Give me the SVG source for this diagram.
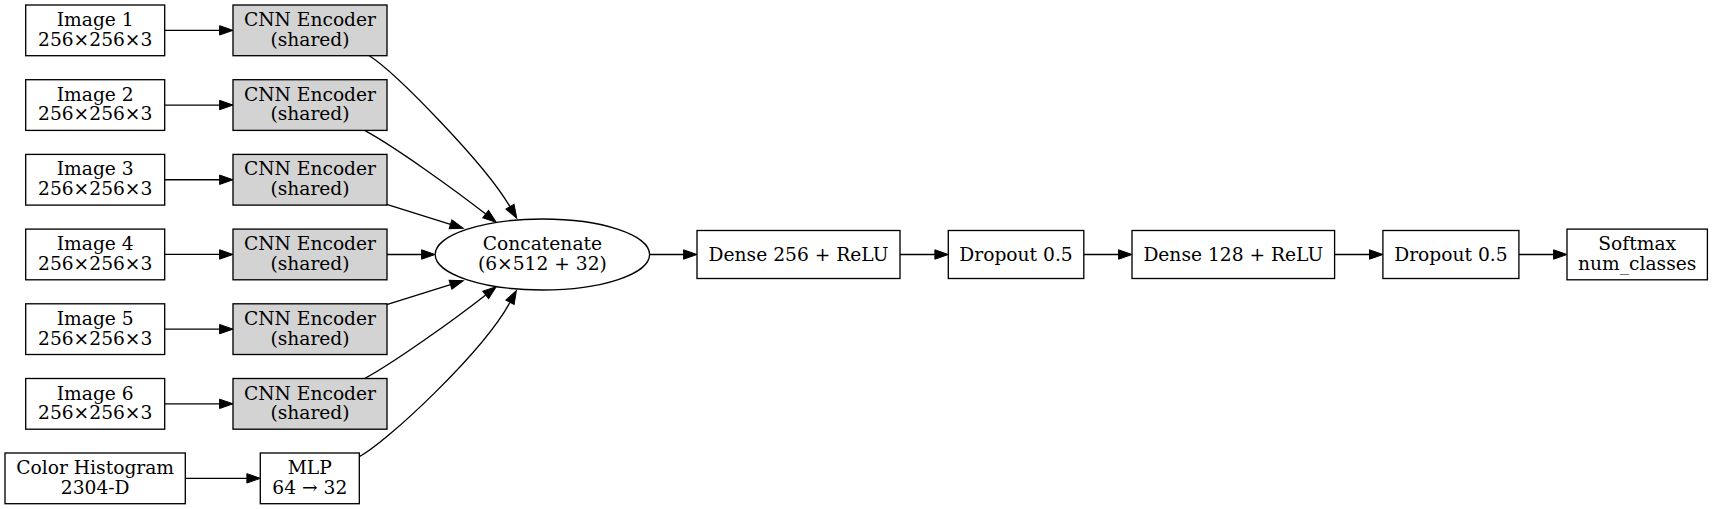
<svg xmlns="http://www.w3.org/2000/svg" width="1714" height="509" viewBox="0 0 1714 509">
<style>
  .n { fill: #ffffff; stroke: #000000; stroke-width: 1.33; }
  .g { fill: #d3d3d3; stroke: #000000; stroke-width: 1.33; }
  .t { font-family: "DejaVu Serif", "Liberation Serif", serif; font-size: 18.67px; fill: #000000; text-anchor: middle; }
  .e { fill: none; stroke: #000000; stroke-width: 1.33; marker-end: url(#ah); }
</style>
<defs>
  <marker id="ah" markerWidth="14" markerHeight="10" refX="0" refY="5" orient="auto" markerUnits="userSpaceOnUse" viewBox="0 0 14 10" overflow="visible">
    <path d="M0,0.3 L13.4,5 L0,9.7 Z" fill="#000000" stroke="#000000" stroke-width="1"/>
  </marker>
</defs>
<rect width="1714" height="509" fill="#ffffff"/>

<g id="img1"><rect class="n" x="25.7" y="5" width="139" height="50.7"/><text class="t" x="95.2" y="26">Image 1</text><text class="t" x="95.2" y="45.7">256×256×3</text></g>
<g id="img2"><rect class="n" x="25.7" y="79.7" width="139" height="50.7"/><text class="t" x="95.2" y="100.7">Image 2</text><text class="t" x="95.2" y="120.4">256×256×3</text></g>
<g id="img3"><rect class="n" x="25.7" y="154.4" width="139" height="50.7"/><text class="t" x="95.2" y="175.4">Image 3</text><text class="t" x="95.2" y="195.1">256×256×3</text></g>
<g id="img4"><rect class="n" x="25.7" y="229.1" width="139" height="50.7"/><text class="t" x="95.2" y="250.1">Image 4</text><text class="t" x="95.2" y="269.8">256×256×3</text></g>
<g id="img5"><rect class="n" x="25.7" y="303.8" width="139" height="50.7"/><text class="t" x="95.2" y="324.8">Image 5</text><text class="t" x="95.2" y="344.5">256×256×3</text></g>
<g id="img6"><rect class="n" x="25.7" y="378.5" width="139" height="50.7"/><text class="t" x="95.2" y="399.5">Image 6</text><text class="t" x="95.2" y="419.2">256×256×3</text></g>

<g id="cnn1"><rect class="g" x="233" y="5" width="154" height="50.7"/><text class="t" x="310" y="26">CNN Encoder</text><text class="t" x="310" y="45.7">(shared)</text></g>
<g id="cnn2"><rect class="g" x="233" y="79.7" width="154" height="50.7"/><text class="t" x="310" y="100.7">CNN Encoder</text><text class="t" x="310" y="120.4">(shared)</text></g>
<g id="cnn3"><rect class="g" x="233" y="154.4" width="154" height="50.7"/><text class="t" x="310" y="175.4">CNN Encoder</text><text class="t" x="310" y="195.1">(shared)</text></g>
<g id="cnn4"><rect class="g" x="233" y="229.1" width="154" height="50.7"/><text class="t" x="310" y="250.1">CNN Encoder</text><text class="t" x="310" y="269.8">(shared)</text></g>
<g id="cnn5"><rect class="g" x="233" y="303.8" width="154" height="50.7"/><text class="t" x="310" y="324.8">CNN Encoder</text><text class="t" x="310" y="344.5">(shared)</text></g>
<g id="cnn6"><rect class="g" x="233" y="378.5" width="154" height="50.7"/><text class="t" x="310" y="399.5">CNN Encoder</text><text class="t" x="310" y="419.2">(shared)</text></g>

<g id="hist"><rect class="n" x="5" y="453" width="180.3" height="50.7"/><text class="t" x="95.2" y="474">Color Histogram</text><text class="t" x="95.2" y="493.7">2304-D</text></g>
<g id="mlp"><rect class="n" x="260.3" y="453" width="99" height="50.7"/><text class="t" x="309.8" y="474">MLP</text><text class="t" x="309.8" y="493.7">64 → 32</text></g>

<g id="concat"><ellipse class="n" cx="542.4" cy="254.5" rx="107.2" ry="35.5"/><text class="t" x="542.4" y="250">Concatenate</text><text class="t" x="542.4" y="269.7">(6×512 + 32)</text></g>

<g id="dense256"><rect class="n" x="697" y="230.5" width="203" height="48"/><text class="t" x="798.5" y="260.5">Dense 256 + ReLU</text></g>
<g id="drop1"><rect class="n" x="948.3" y="230.5" width="135.5" height="48"/><text class="t" x="1016" y="260.5">Dropout 0.5</text></g>
<g id="dense128"><rect class="n" x="1132" y="230.5" width="202.6" height="48"/><text class="t" x="1233.3" y="260.5">Dense 128 + ReLU</text></g>
<g id="drop2"><rect class="n" x="1382.9" y="230.5" width="136" height="48"/><text class="t" x="1450.9" y="260.5">Dropout 0.5</text></g>
<g id="softmax"><rect class="n" x="1567" y="229.1" width="140.4" height="50.7"/><text class="t" x="1637.2" y="250.1">Softmax</text><text class="t" x="1637.2" y="269.8">num_classes</text></g>

<g id="edges">
  <path class="e" d="M164.7,30.35 L219.6,30.35"/>
  <path class="e" d="M164.7,105.05 L219.6,105.05"/>
  <path class="e" d="M164.7,179.75 L219.6,179.75"/>
  <path class="e" d="M164.7,254.45 L219.6,254.45"/>
  <path class="e" d="M164.7,329.15 L219.6,329.15"/>
  <path class="e" d="M164.7,403.85 L219.6,403.85"/>
  <path class="e" d="M185.3,478.35 L246.9,478.35"/>

  <path class="e" d="M369.3,55.7 C395,72 485,163.7 510,206.7"/>
  <path class="e" d="M365,130.7 C395,147 455,190 485.7,214.1"/>
  <path class="e" d="M386.7,204.3 C405,210 430,218 450.5,224.3"/>
  <path class="e" d="M387,254.5 L421.6,254.5"/>
  <path class="e" d="M386.7,304.7 C405,299 430,291 450.5,284.7"/>
  <path class="e" d="M365,378.3 C395,362 455,319 485.7,294.9"/>
  <path class="e" d="M359.3,456.7 C387,442 483,352 510,302.3"/>

  <path class="e" d="M649.6,254.5 L683.6,254.5"/>
  <path class="e" d="M900,254.5 L934.9,254.5"/>
  <path class="e" d="M1083.8,254.5 L1118.6,254.5"/>
  <path class="e" d="M1334.6,254.5 L1369.5,254.5"/>
  <path class="e" d="M1518.9,254.5 L1553.6,254.5"/>
</g>
</svg>
